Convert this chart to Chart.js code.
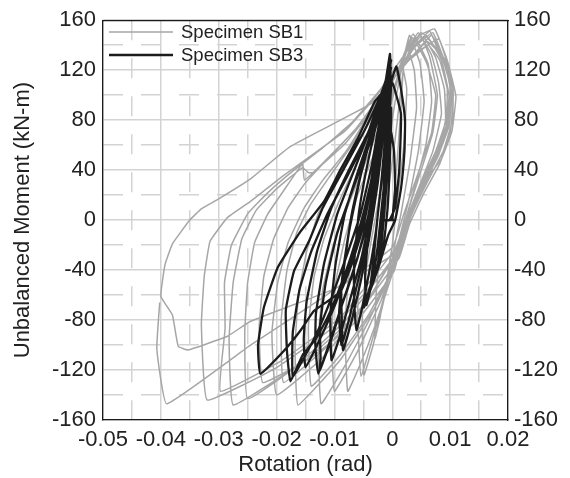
<!DOCTYPE html>
<html>
<head>
<meta charset="utf-8">
<script src="https://cdn.jsdelivr.net/npm/chart.js@4.4.0/dist/chart.umd.min.js"></script>
<style>
  html, body { margin: 0; padding: 0; background: #fff; }
  #wrap { width: 570px; height: 478px; }
</style>
</head>
<body>
<div id="wrap"><canvas id="chart" width="570" height="478"></canvas></div>
<script>
/* ==============================
   DATA  (rotation rad, moment kN-m)
================================ */
const seriesNames = ["Specimen SB1", "Specimen SB3"];

const sb1Points = [
  [0,0],[0.0008,45],[0.0015,90],[0.0019,120],
  [0.0025,105],[0.002,60],[0.001,20],[0,-20],[-0.0012,-55],[-0.0022,-80],[-0.003,-95],
  [-0.0028,-60],[-0.002,-20],[-0.0008,20],[0.0005,65],[0.0015,105],[0.0025,140],
  [0.0038,120],[0.0042,90],[0.003,45],[0.0015,5],[0,-30],[-0.0015,-65],[-0.0033,-100],[-0.0049,-124],
  [-0.0052,-80],[-0.0045,-40],[-0.003,0],[-0.0012,45],[0.0005,95],[0.002,130],[0.003,148],
  [0.0048,125],[0.0055,95],[0.0045,55],[0.0028,15],[0.0012,-15],[-0.0005,-45],[-0.0025,-80],[-0.0054,-125],
  [-0.006,-75],[-0.0055,-35],[-0.0042,0],[-0.0025,40],[-0.0005,90],[0.0018,130],[0.0036,149],
  [0.0062,125],[0.0068,95],[0.0058,60],[0.0038,25],[0.0018,-8],[0.0002,-40],[-0.003,-85],[-0.0055,-115],[-0.0077,-137],
  [-0.0082,-85],[-0.0075,-45],[-0.006,-12],[-0.004,25],[-0.0018,65],[0.0008,110],[0.0032,138],[0.005,147],
  [0.0065,130],[0.0078,100],[0.007,70],[0.005,40],[0.0028,8],[0.001,-25],[-0.002,-65],[-0.006,-105],[-0.01,-137],
  [-0.0105,-90],[-0.0098,-50],[-0.0082,-15],[-0.006,20],[-0.003,55],[-0.0005,95],[0.0025,135],[0.0045,150],
  [0.0068,132],[0.008,110],[0.0085,85],[0.007,55],[0.0045,25],[0.002,-5],[0,-38],[-0.004,-80],[-0.008,-115],[-0.0123,-147],
  [-0.0128,-95],[-0.012,-55],[-0.0102,-20],[-0.0078,10],[-0.005,42],[-0.002,78],[0.001,115],[0.004,140],[0.0065,151],
  [0.0085,128],[0.0098,100],[0.0095,75],[0.0075,48],[0.005,22],[0.0025,-5],[0.0005,-35],[-0.004,-75],[-0.009,-108],[-0.014,-133],
  [-0.0145,-85],[-0.0135,-45],[-0.0118,-15],[-0.0092,15],[-0.0062,45],[-0.003,78],[0.0005,115],[0.0035,138],[0.0055,146],
  [0.0075,130],[0.009,105],[0.0092,80],[0.0078,52],[0.0055,28],[0.003,2],[0.0012,-28],[-0.003,-70],[-0.009,-112],[-0.0163,-148],
  [-0.0168,-100],[-0.0162,-60],[-0.0148,-25],[-0.0128,5],[-0.01,30],[-0.0068,55],[-0.0035,82],[0,112],[0.0038,138],[0.007,150],
  [0.0092,125],[0.0102,100],[0.0098,78],[0.008,52],[0.0056,31],[0.0028,4],[0.001,-22],[-0.004,-62],[-0.011,-100],[-0.0188,-130],
  [-0.0192,-80],[-0.0182,-40],[-0.0165,-10],[-0.0142,12],[-0.0108,35],[-0.007,60],[-0.003,90],[0.0015,122],[0.0062,140],
  [0.0082,128],[0.0095,105],[0.0093,80],[0.0075,55],[0.005,30],[0.0025,0],[0.0008,-25],[-0.005,-70],[-0.012,-110],[-0.02,-140],
  [-0.0208,-90],[-0.0198,-50],[-0.018,-18],[-0.0152,10],[-0.012,32],[-0.008,55],[-0.004,85],[0.001,125],[0.0045,147],[0.0073,153],
  [0.0095,128],[0.011,99],[0.0103,71],[0.0085,49],[0.0056,31],[0.0028,4],[0.0016,-17],[0.0003,-41],[-0.006,-80],[-0.014,-110],[-0.0224,-130],
  [-0.023,-85],[-0.0222,-45],[-0.0205,-15],[-0.018,10],[-0.015,30],[-0.011,50],[-0.0065,72],[-0.002,100],[0.003,130],[0.008,145],
  [0.0095,125],[0.0105,95],[0.01,70],[0.0082,45],[0.0055,22],[0.003,-3],[0.0012,-30],[-0.006,-75],[-0.015,-112],[-0.025,-143],
  [-0.0255,-90],[-0.025,-50],[-0.0238,-18],[-0.0215,5],[-0.019,22],[-0.0155,45],[-0.0152,32],[-0.012,45],[-0.008,62],[-0.004,85],[0.0005,115],[0.006,143],
  [0.0092,128],[0.0105,105],[0.0104,80],[0.0088,55],[0.006,30],[0.0032,3],[0.0014,-22],[-0.008,-80],[-0.017,-118],[-0.0275,-148],
  [-0.0282,-95],[-0.0275,-50],[-0.026,-15],[-0.0235,8],[-0.02,25],[-0.0155,42],[-0.0145,38],[-0.0137,38],[-0.01,55],[-0.005,80],[0,112],[0.0068,148],
  [0.0085,132],[0.01,108],[0.0098,82],[0.008,58],[0.0055,33],[0.0028,5],[0.001,-20],[-0.009,-78],[-0.019,-112],[-0.0297,-137],
  [-0.0289,-87],[-0.029,-50],[-0.0278,-20],[-0.025,5],[-0.0215,22],[-0.017,40],[-0.012,58],[-0.007,78],[-0.002,105],[0.005,150],
  [0.0088,130],[0.0103,100],[0.0098,75],[0.0078,50],[0.005,25],[0.0025,-2],[0.0008,-28],[-0.01,-85],[-0.02,-118],[-0.032,-144],
  [-0.033,-84],[-0.0325,-45],[-0.0315,-17],[-0.0285,2],[-0.0245,15],[-0.019,35],[-0.013,55],[-0.008,72],[-0.003,98],[0.0058,148],
  [0.0085,128],[0.0098,100],[0.0092,72],[0.0072,48],[0.0045,22],[0.002,-5],[0,-28],[-0.01,-55],[-0.0245,-81],[-0.0285,-93],
  [-0.0353,-104],[-0.037,-101],[-0.038,-76],[-0.04,-61],[-0.0393,-36],[-0.038,-19],[-0.035,0],[-0.033,9],[-0.03,17],[-0.0245,33],
  [-0.0176,59],[-0.0037,93],[0,110],[0.0035,146],
  [0.006,125],[0.0075,100],[0.0068,70],[0.0045,38],[0.002,5],[0,-22],[-0.012,-62],[-0.0245,-100],[-0.039,-147],[-0.0407,-103],[-0.0402,-66]
];

const sb3Points = [
  [0,0],[0.0005,25],[0.0003,55],[-0.0002,70],
  [-0.0008,40],[-0.0015,0],[-0.002,-25],[-0.0025,-38],
  [-0.0015,-20],[-0.0008,10],[-0.0004,50],[-0.0002,90],
  [-0.0008,75],[-0.0016,40],[-0.0025,5],[-0.0032,-30],[-0.0038,-55],
  [-0.0025,-35],[-0.0015,0],[-0.0008,50],[-0.0003,100],[-0.0001,115],
  [-0.0012,95],[-0.0025,60],[-0.0035,25],[-0.0042,-15],[-0.0047,-45],[-0.0045,-68],
  [-0.0035,-50],[-0.0025,-20],[-0.0015,25],[-0.0008,75],[-0.0002,110],[0.0007,123],
  [0.0015,105],[0.0022,80],[0.0021,55],[0.0015,25],[0.0005,0],[-0.0007,-12],[-0.0024,-38],[-0.0049,-70],
  [-0.0035,-48],[-0.0022,-15],[-0.0012,30],[-0.0006,80],[-0.0003,120],[-0.0004,133],
  [-0.0012,110],[-0.003,80],[-0.005,45],[-0.007,5],[-0.0085,-40],[-0.0092,-75],[-0.0088,-100],
  [-0.0075,-80],[-0.006,-50],[-0.0042,-15],[-0.0028,25],[-0.0015,75],[-0.0007,115],[-0.0002,128],
  [-0.0015,105],[-0.0035,70],[-0.0055,35],[-0.0075,-10],[-0.0088,-55],[-0.0087,-85],[-0.0085,-104],
  [-0.007,-80],[-0.0055,-50],[-0.004,-15],[-0.0025,30],[-0.0013,80],[-0.0006,118],
  [-0.0014,100],[-0.003,72],[-0.0045,40],[-0.0058,5],[-0.0066,-35],[-0.0066,-65],[-0.0062,-88],
  [-0.0052,-70],[-0.004,-42],[-0.0028,-8],[-0.0018,35],[-0.001,80],[-0.0004,112],
  [-0.0016,98],[-0.0038,68],[-0.006,38],[-0.0082,5],[-0.0098,-35],[-0.0107,-75],[-0.0105,-112],
  [-0.009,-92],[-0.0072,-62],[-0.0052,-28],[-0.0035,12],[-0.0022,55],[-0.0011,95],[-0.0004,120],
  [-0.002,100],[-0.0045,65],[-0.007,35],[-0.0095,5],[-0.0118,-35],[-0.0132,-75],[-0.0133,-100],[-0.0128,-123],
  [-0.011,-100],[-0.009,-72],[-0.007,-45],[-0.0045,-5],[-0.0028,40],[-0.0015,85],[-0.0007,115],[-0.0003,125],
  [-0.0018,95],[-0.004,60],[-0.0068,25],[-0.0095,-10],[-0.0115,-50],[-0.0125,-85],[-0.0124,-110],[-0.0125,-120],
  [-0.0105,-95],[-0.0085,-65],[-0.006,-30],[-0.0038,10],[-0.0022,55],[-0.0012,95],[-0.0005,120],
  [-0.002,100],[-0.005,70],[-0.0085,40],[-0.012,10],[-0.0144,-17],[-0.017,-41],[-0.0184,-72],[-0.0182,-105],[-0.0176,-129],
  [-0.0155,-108],[-0.0132,-95],[-0.0112,-78],[-0.0094,-58],[-0.0072,-30],[-0.005,5],[-0.003,45],[-0.0017,85],[-0.0008,115],[-0.0002,122],
  [-0.0018,95],[-0.0045,65],[-0.0078,35],[-0.0112,5],[-0.014,-25],[-0.016,-55],[-0.0172,-90],[-0.0172,-125],
  [-0.015,-108],[-0.0128,-88],[-0.0105,-62],[-0.008,-30],[-0.0055,5],[-0.0035,45],[-0.002,85],[-0.001,110],[-0.0005,117],
  [-0.0015,100],[-0.0042,70],[-0.0075,40],[-0.0105,10],[-0.013,-25],[-0.0148,-65],[-0.0153,-95],[-0.015,-118],
  [-0.013,-100],[-0.011,-80],[-0.0088,-55],[-0.0065,-25],[-0.0045,10],[-0.003,50],[-0.0018,88],[-0.0008,112],
  [-0.0012,105],[-0.003,95],[-0.006,65],[-0.009,40],[-0.0118,15],[-0.016,-10],[-0.0198,-38],[-0.0222,-70],[-0.0232,-100],[-0.0228,-123],
  [-0.0188,-105],[-0.0158,-88],[-0.0136,-73],[-0.0112,-65],[-0.0089,-57],[-0.007,-35],[-0.005,-5],[-0.0035,30],[-0.002,65],[-0.001,100],[0,110],
  [0.0015,85],[0.0012,40],[0.0005,10],[-0.0005,0],[-0.0015,0],[0.0003,0]
];

/* axis ranges */
const rotMin = -0.05, rotMax = 0.02, rotMajor = 0.01, rotMinor = 0.005;
const momMin = -160, momMax = 160, momMajor = 40, momMinor = 20;

/* ==============================
   STYLE
================================ */
const FONT = "'Liberation Sans', Arial, sans-serif";
const gridGrey = "#d3d3d3";
const axisBlack = "#1a1a1a";

const isMultiple = (v, step) => Math.abs(v / step - Math.round(v / step)) < 1e-6;
const fmtRot = v => {
    const r = Math.round(v * 1000) / 1000;
    return r === 0 ? "0" : String(r);
};

/* legend drawn inside the plot, top-left */
const insideLegend = {
    id: "insideLegend",
    afterDraw(chart) {
        const ctx = chart.ctx;
        ctx.save();
        chart.data.datasets.forEach((ds, i) => {
            const y = 32 + i * 23;
            ctx.strokeStyle = ds.borderColor;
            ctx.lineWidth = ds.borderWidth;
            ctx.beginPath();
            ctx.moveTo(109, y);
            ctx.lineTo(173, y);
            ctx.stroke();
            ctx.fillStyle = "#222";
            ctx.font = "18.5px " + FONT;
            ctx.textBaseline = "middle";
            ctx.textAlign = "left";
            ctx.fillText(ds.label, 181, y + 1);
        });
        ctx.restore();
    }
};

const tickFont = { family: FONT, size: 22 };

new Chart(document.getElementById("chart"), {
    type: "scatter",
    data: {
        datasets: [
            {
                label: seriesNames[0],
                data: sb1Points.map(p => ({ x: p[0], y: p[1] })),
                showLine: true,
                borderColor: "#a6a6a6",
                borderWidth: 1.5,
                pointRadius: 0,
                tension: 0.1,
                order: 2
            },
            {
                label: seriesNames[1],
                data: sb3Points.map(p => ({ x: p[0], y: p[1] })),
                showLine: true,
                borderColor: "#1c1c1c",
                borderWidth: 2.3,
                pointRadius: 0,
                tension: 0.12,
                order: 1
            }
        ]
    },
    options: {
        responsive: false,
        animation: false,
        layout: { padding: { top: 15, right: 0, bottom: 0, left: 0 } },
        plugins: {
            legend: { display: false },
            tooltip: { enabled: false }
        },
        scales: {
            x: {
                type: "linear",
                position: "bottom",
                min: rotMin, max: rotMax,
                ticks: {
                    stepSize: rotMajor, autoSkip: false, maxRotation: 0,
                    padding: 7, color: "#222", font: tickFont,
                    callback: v => fmtRot(v)
                },
                grid: { color: gridGrey, lineWidth: 1.5, drawTicks: false },
                border: { display: true, color: axisBlack, width: 1.3 },
                title: {
                    display: true, text: "Rotation (rad)", color: "#222",
                    font: { family: FONT, size: 22 },
                    padding: { top: 0, bottom: 0 }
                },
                afterFit: s => { s.height = 58; }
            },
            xMinor: {
                type: "linear",
                position: "bottom",
                min: rotMin, max: rotMax,
                ticks: { stepSize: rotMinor, autoSkip: false, display: false, maxTicksLimit: 100 },
                grid: {
                    drawTicks: false, lineWidth: 1.5,
                    color: c => isMultiple(c.tick.value, rotMajor) ? "rgba(0,0,0,0)" : gridGrey
                },
                border: { display: false, dash: [20, 18] },
                afterFit: s => { s.height = 0; }
            },
            xTop: {
                type: "linear",
                position: "top",
                min: rotMin, max: rotMax,
                ticks: { display: false },
                grid: { display: false, drawTicks: false },
                border: { display: true, color: axisBlack, width: 1.3 },
                afterFit: s => { s.height = 0; }
            },
            y: {
                type: "linear",
                position: "left",
                min: momMin, max: momMax,
                ticks: { stepSize: momMajor, autoSkip: false, padding: 7, color: "#222", font: tickFont },
                grid: { color: gridGrey, lineWidth: 1.5, drawTicks: false },
                border: { display: true, color: axisBlack, width: 1.3 },
                title: {
                    display: true, text: "Unbalanced Moment (kN-m)", color: "#222",
                    font: { family: FONT, size: 22 },
                    padding: { top: 10, bottom: 0 }
                },
                afterFit: s => { s.width = 103; }
            },
            yMinor: {
                type: "linear",
                position: "left",
                min: momMin, max: momMax,
                ticks: { stepSize: momMinor, autoSkip: false, display: false, maxTicksLimit: 100 },
                grid: {
                    drawTicks: false, lineWidth: 1.5,
                    color: c => isMultiple(c.tick.value, momMajor) ? "rgba(0,0,0,0)" : gridGrey
                },
                border: { display: false, dash: [20, 18] },
                afterFit: s => { s.width = 0; }
            },
            yRight: {
                type: "linear",
                position: "right",
                min: momMin, max: momMax,
                ticks: { stepSize: momMajor, autoSkip: false, padding: 6, color: "#222", font: tickFont },
                grid: { drawOnChartArea: false, drawTicks: false },
                border: { display: true, color: axisBlack, width: 1.3 },
                afterFit: s => { s.width = 62; }
            }
        }
    },
    plugins: [insideLegend]
});
</script>
</body>
</html>
